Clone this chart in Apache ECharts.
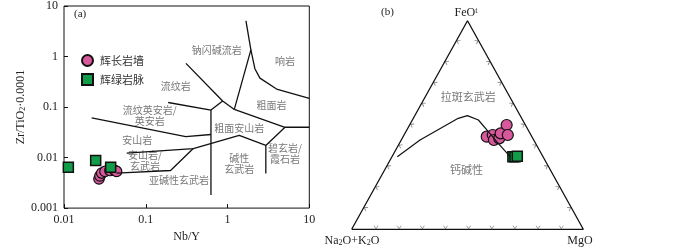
<!DOCTYPE html>
<html>
<head>
<meta charset="utf-8">
<script src="https://cdn.jsdelivr.net/npm/echarts/dist/echarts.min.js"></script>
<style>
  html, body { margin: 0; padding: 0; background: #fff; }
  #main { width: 700px; height: 248px; }
</style>
</head>
<body>
<div id="main"></div>
<script>
// ---- (a) Zr/TiO2*0.0001 vs Nb/Y ----
const xTickLabels = ['0.01', '0.1', '1', '10'];
const yTickLabels = ['0.001', '0.01', '0.1', '1', '10'];

const gabbroNbY = [0.0268, 0.0275, 0.0289, 0.0317, 0.0365, 0.042, 0.044];
const gabbroZrTi = [0.00378, 0.00435, 0.00494, 0.00532, 0.00555, 0.00555, 0.00532];
const diabaseNbY = [0.0113, 0.0244, 0.0372];
const diabaseZrTi = [0.0064, 0.00877, 0.0064];

// field boundaries, [Nb/Y, Zr/TiO2*0.0001]
const bComendite = [[1.68, 5.1], [1.93, 1.35], [1.21, 0.0897]];
const bPhonolite = [[1.93, 1.35], [2.16, 0.574], [2.49, 0.374], [3.98, 0.227], [10, 0.148]];
const bRhyolite = [[0.31, 0.733], [0.871, 0.132], [1.21, 0.0897]];
const bRhyoShort = [[0.871, 0.132], [0.627, 0.0871]];
const bVertical = [[0.627, 0.0871], [0.627, 0.00182]];
const bTrachyte = [[1.21, 0.0897], [5.04, 0.0398], [10, 0.0398]];
const bBasanite = [[5.04, 0.0398], [2.94, 0.0174], [2.94, 0.00482]];
const bTrachyAndBase = [[2.94, 0.0174], [1.39, 0.0274], [0.381, 0.0151], [0.0585, 0.0122]];
const bSubalkaline = [[0.381, 0.0151], [0.201, 0.00555], [0.044, 0.00494]];
const bAndesiteTop = [[0.0218, 0.0611], [0.308, 0.0259], [0.627, 0.0286]];
const bDaciteTop = [[0.188, 0.123], [0.627, 0.0871]];
const boundariesA = [bComendite, bPhonolite, bRhyolite, bRhyoShort, bVertical, bTrachyte,
  bBasanite, bTrachyAndBase, bSubalkaline, bAndesiteTop, bDaciteTop];

const fieldNames = ['钠闪碱流岩', '响岩', '流纹岩', '粗面岩', '流纹英安岩/\n英安岩', '粗面安山岩',
  '安山岩', '碧玄岩/\n霞石岩', '安山岩/\n玄武岩', '碱性\n玄武岩', '亚碱性玄武岩'];
const fieldNbY = [0.736, 5.04, 0.232, 3.46, 0.112, 1.39, 0.0787, 5.04, 0.0977, 1.39, 0.255];
const fieldZrTi = [1.32, 0.822, 0.255, 0.108, 0.0665, 0.0381, 0.0221, 0.012, 0.0085, 0.00748, 0.00361];

// ---- (b) AFM ternary, percentages ----
const curveAlk = [62.9, 49.1, 27.4, 22.8, 19.1, 17.6, 16.4, 14.2];
const curveFeO = [34.8, 42.8, 53.2, 54.5, 52.4, 46.8, 42.0, 34.8];
const curveMgO = [2.3, 8.1, 19.4, 22.7, 28.5, 35.6, 41.6, 51.0];

const gabbroAlk = [19.5, 16.5, 17.2, 14.5, 12.7, 8.1, 10.0];
const gabbroFeO = [44.4, 45.2, 42.8, 43.6, 46.0, 50.0, 45.2];
const gabbroMgO = [36.1, 38.3, 40.0, 41.9, 41.3, 41.9, 44.8];

const diabaseAlk = [13.0, 12.1, 11.0];
const diabaseFeO = [34.8, 34.8, 35.0];
const diabaseMgO = [52.2, 53.1, 54.0];

const ternTicks = [10, 20, 30, 40, 50, 60, 70, 80, 90];
const ternFieldNames = ['拉斑玄武岩', '钙碱性'];
const ternFieldAlk = [18.0, 36.2];
const ternFieldFeO = [63.3, 28.4];
const ternFieldMgO = [18.7, 35.4];

const PINK = '#d8589c';
const GREEN = '#129b48';
const CJK = 'Noto Sans CJK SC';
const SERIF = 'Liberation Serif';

function tern(alk, feo, mgo) {
  const s = alk + feo + mgo;
  return [(mgo + feo * 0.5) / s, feo / s];
}

const chart = echarts.init(document.getElementById('main'));

const lineSeriesA = boundariesA.map(b => ({
  type: 'line', xAxisIndex: 0, yAxisIndex: 0, data: b,
  showSymbol: false, silent: true, animation: false,
  lineStyle: { color: '#111', width: 1.3 }
}));

const tickData = [];
ternTicks.forEach(t => {
  tickData.push({ value: tern(99 - t, 1, t), symbolRotate: 0 });
  tickData.push({ value: tern(99 - t, t, 1), symbolRotate: -120 });
  tickData.push({ value: tern(1, t, 99 - t), symbolRotate: 120 });
});

const option = {
  animation: false,
  textStyle: { fontFamily: SERIF },
  grid: [
    { left: 64, top: 5, width: 245.3, height: 215, show: true, borderColor: '#111', borderWidth: 1 },
    { left: 351.7, top: 20.7, width: 231.6, height: 208.6 }
  ],
  legend: {
    orient: 'vertical', left: 81, top: 54, padding: 0,
    itemWidth: 11, itemHeight: 11, itemGap: 6, selectedMode: false,
    data: ['辉长岩墙', '辉绿岩脉'],
    textStyle: { fontFamily: CJK, fontSize: 11, color: '#333', padding: [0, 0, 0, 2] }
  },
  xAxis: [
    {
      type: 'log', logBase: 10, gridIndex: 0, min: 0.01, max: 10,
      name: 'Nb/Y', nameLocation: 'middle', nameGap: 17,
      nameTextStyle: { fontFamily: SERIF, fontSize: 12, color: '#222' },
      axisLine: { show: false },
      axisTick: { inside: true, length: 4, lineStyle: { color: '#111' } },
      minorTick: { show: false }, splitLine: { show: false },
      axisLabel: {
        fontFamily: SERIF, fontSize: 12, color: '#222', margin: 6,
        formatter: v => xTickLabels[Math.round(Math.log10(v)) + 2]
      }
    },
    { type: 'value', gridIndex: 1, min: 0, max: 1, show: false }
  ],
  yAxis: [
    {
      type: 'log', logBase: 10, gridIndex: 0, min: 0.001, max: 10,
      name: 'Zr/TiO{s|2}·0.0001', nameLocation: 'middle', nameGap: 23,
      nameTextStyle: {
        fontFamily: SERIF, fontSize: 12, color: '#222',
        rich: { s: { fontFamily: SERIF, fontSize: 8, verticalAlign: 'bottom', color: '#222' } }
      },
      axisLine: { show: false },
      axisTick: { inside: true, length: 4, lineStyle: { color: '#111' } },
      minorTick: { show: false }, splitLine: { show: false },
      axisLabel: {
        fontFamily: SERIF, fontSize: 12, color: '#222', margin: 6,
        formatter: v => yTickLabels[Math.round(Math.log10(v)) + 3]
      }
    },
    { type: 'value', gridIndex: 1, min: 0, max: 1, show: false }
  ],
  graphic: [
    { type: 'text', left: 74, top: 9, style: { text: '(a)', font: '11px "Liberation Serif"', fill: '#222' } },
    { type: 'text', left: 381, top: 7, style: { text: '(b)', font: '11px "Liberation Serif"', fill: '#222' } },
    {
      type: 'text', x: 466, y: 13, style: {
        text: 'FeO{t|t}', align: 'center', verticalAlign: 'middle',
        font: '12px "Liberation Serif"', fill: '#222',
        rich: { t: { font: '8px "Liberation Serif"', verticalAlign: 'top', fill: '#222' } }
      }
    },
    {
      type: 'text', x: 352, y: 241, style: {
        text: 'Na{s|2}O+K{s|2}O', align: 'center', verticalAlign: 'middle',
        font: '12px "Liberation Serif"', fill: '#222',
        rich: { s: { font: '8px "Liberation Serif"', verticalAlign: 'bottom', fill: '#222' } }
      }
    },
    {
      type: 'text', x: 580, y: 241, style: {
        text: 'MgO', align: 'center', verticalAlign: 'middle',
        font: '12px "Liberation Serif"', fill: '#222'
      }
    }
  ],
  series: [
    ...lineSeriesA,
    {
      type: 'scatter', xAxisIndex: 0, yAxisIndex: 0, silent: true,
      symbolSize: 1, itemStyle: { color: 'rgba(0,0,0,0)' },
      label: {
        show: true, position: 'inside', formatter: '{b}',
        fontFamily: CJK, fontSize: 10, color: '#555', lineHeight: 11, align: 'center'
      },
      data: fieldNames.map((n, i) => ({ name: n, value: [fieldNbY[i], fieldZrTi[i]] }))
    },
    {
      name: '辉长岩墙', type: 'scatter', xAxisIndex: 0, yAxisIndex: 0,
      symbol: 'circle', symbolSize: 10.5,
      itemStyle: { color: PINK, borderColor: '#111', borderWidth: 1.2, opacity: 1 },
      data: gabbroNbY.map((x, i) => [x, gabbroZrTi[i]])
    },
    {
      name: '辉绿岩脉', type: 'scatter', xAxisIndex: 0, yAxisIndex: 0,
      symbol: 'rect', symbolSize: 10,
      itemStyle: { color: GREEN, borderColor: '#111', borderWidth: 1.5, opacity: 1 },
      data: diabaseNbY.map((x, i) => [x, diabaseZrTi[i]])
    },
    // ternary frame
    {
      type: 'line', xAxisIndex: 1, yAxisIndex: 1, silent: true, showSymbol: false,
      lineStyle: { color: '#111', width: 1.3 },
      data: [tern(100, 0, 0), tern(0, 0, 100), tern(0, 100, 0), tern(100, 0, 0)]
    },
    {
      type: 'scatter', xAxisIndex: 1, yAxisIndex: 1, silent: true,
      symbol: 'path://M0,0L4,5L8,0', symbolSize: [4, 3],
      itemStyle: { color: 'rgba(0,0,0,0)', borderColor: '#666', borderWidth: 0.8 },
      data: tickData
    },
    {
      type: 'line', xAxisIndex: 1, yAxisIndex: 1, silent: true, showSymbol: false,
      lineStyle: { color: '#111', width: 1.2 },
      data: curveAlk.map((a, i) => tern(a, curveFeO[i], curveMgO[i]))
    },
    {
      type: 'scatter', xAxisIndex: 1, yAxisIndex: 1, silent: true,
      symbolSize: 1, itemStyle: { color: 'rgba(0,0,0,0)' },
      label: {
        show: true, position: 'inside', formatter: '{b}',
        fontFamily: CJK, fontSize: 11, color: '#555'
      },
      data: ternFieldNames.map((n, i) => ({ name: n, value: tern(ternFieldAlk[i], ternFieldFeO[i], ternFieldMgO[i]) }))
    },
    {
      name: '辉长岩墙', type: 'scatter', xAxisIndex: 1, yAxisIndex: 1,
      symbol: 'circle', symbolSize: 11,
      itemStyle: { color: PINK, borderColor: '#111', borderWidth: 1.2, opacity: 1 },
      data: gabbroAlk.map((a, i) => tern(a, gabbroFeO[i], gabbroMgO[i]))
    },
    {
      name: '辉绿岩脉', type: 'scatter', xAxisIndex: 1, yAxisIndex: 1,
      symbol: 'rect', symbolSize: 10,
      itemStyle: { color: GREEN, borderColor: '#111', borderWidth: 1.5, opacity: 1 },
      data: diabaseAlk.map((a, i) => tern(a, diabaseFeO[i], diabaseMgO[i]))
    }
  ]
};

chart.setOption(option);
</script>
</body>
</html>
